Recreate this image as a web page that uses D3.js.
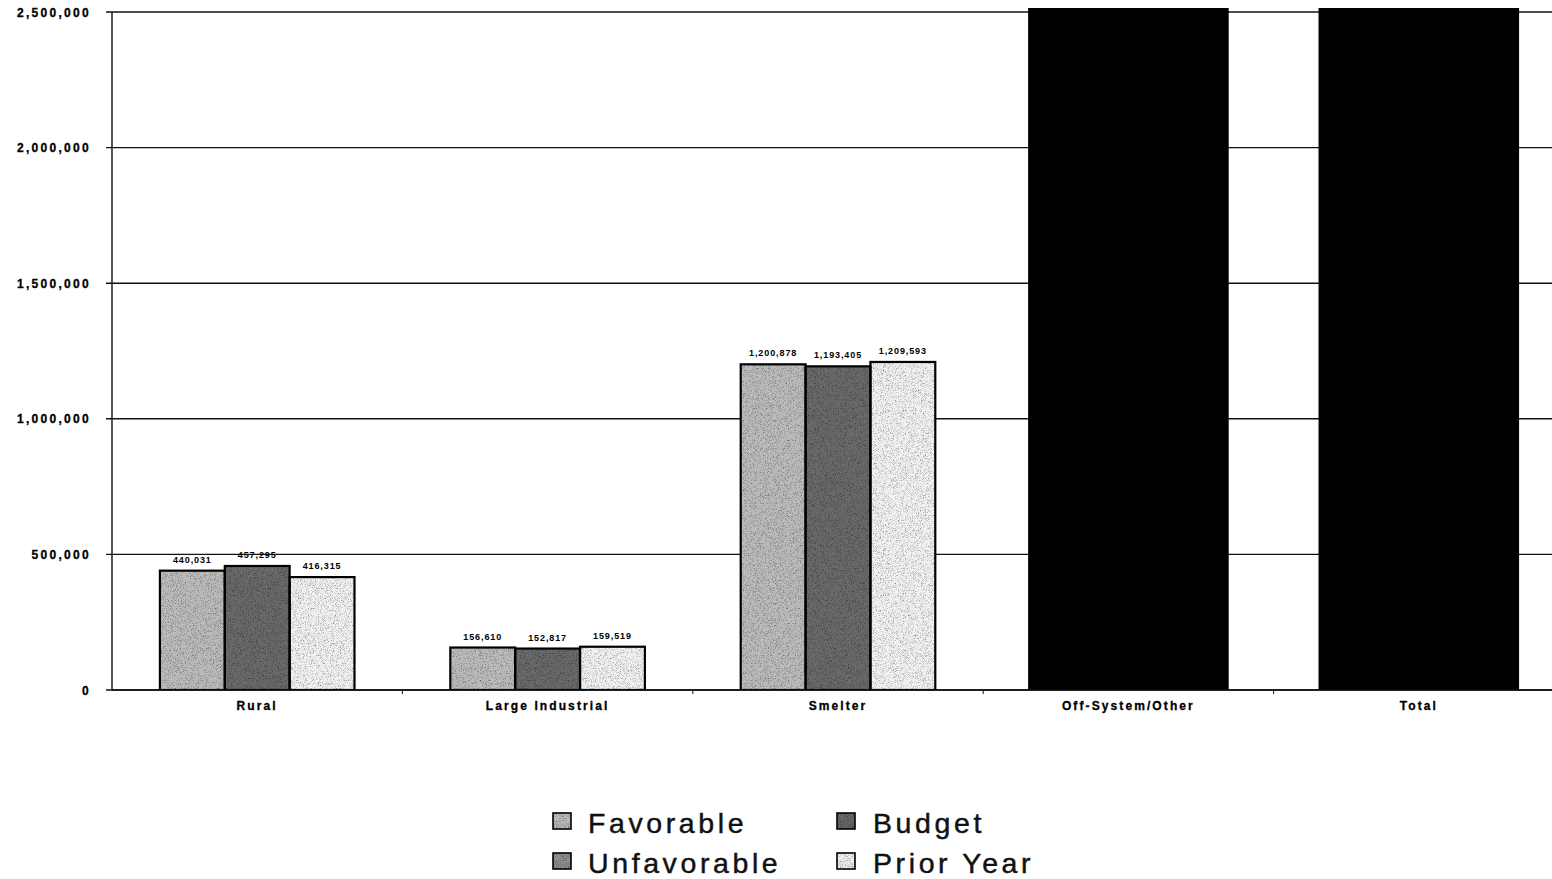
<!DOCTYPE html>
<html>
<head>
<meta charset="utf-8">
<script src="https://cdn.jsdelivr.net/npm/d3@7"></script>
<style>
  html, body { margin: 0; padding: 0; background: #fff; overflow: hidden; }
  svg { display: block; font-family: "Liberation Sans", Arial, sans-serif; }
</style>
</head>
<body>
<svg id="chart" width="1552" height="879"></svg>
<script>
// chart data
const categories = ["Rural", "Large Industrial", "Smelter", "Off-System/Other", "Total"];
const seriesNames = ["Favorable", "Budget", "Prior Year"];
const favorable = [440031, 156610, 1200878, null, null];
const budget = [457295, 152817, 1193405, null, null];
const priorYear = [416315, 159519, 1209593, null, null];
// last two groups are blacked out in the source (values above the axis top)
const redacted = [false, false, false, true, true];
const yTicks = [0, 500000, 1000000, 1500000, 2000000, 2500000];
const legendItems = ["Favorable", "Budget", "Unfavorable", "Prior Year"];
const legendColors = ["#b9b9b9", "#666666", "#8e8e8e", "#eeeeee"];

const svg = d3.select("#chart");
const plotLeft = 112, plotRight = 1564, plotTop = 12, plotBottom = 690;

const x = d3.scaleBand()
  .domain(categories)
  .range([plotLeft, plotRight])
  .paddingInner(0.33)
  .paddingOuter(0.165);

const xSub = d3.scaleBand()
  .domain(seriesNames)
  .range([0, x.bandwidth()]);

const y = d3.scaleLinear()
  .domain([0, 2500000])
  .range([plotBottom, plotTop]);

const fmt = d3.format(",");

// scan-like grain for the filled marks
const defs = svg.append("defs");
const grain = defs.append("filter").attr("id", "grain")
  .attr("x", 0).attr("y", 0).attr("width", 1).attr("height", 1);
grain.append("feTurbulence")
  .attr("type", "fractalNoise").attr("baseFrequency", 1.4)
  .attr("numOctaves", 1).attr("seed", 3).attr("result", "noise");
grain.append("feColorMatrix")
  .attr("in", "noise").attr("type", "matrix")
  .attr("values", "0 0 0 0 0  0 0 0 0 0  0 0 0 0 0  0 0 0 -2.2 1.15")
  .attr("result", "dots");
grain.append("feComposite")
  .attr("in", "dots").attr("in2", "SourceGraphic").attr("operator", "in")
  .attr("result", "dotsIn");
const merge = grain.append("feMerge");
merge.append("feMergeNode").attr("in", "SourceGraphic");
merge.append("feMergeNode").attr("in", "dotsIn");

// grid lines
svg.append("g")
  .selectAll("line")
  .data(yTicks)
  .join("line")
  .attr("x1", plotLeft - 6)
  .attr("x2", 1552)
  .attr("y1", d => y(d))
  .attr("y2", d => y(d))
  .attr("stroke", "#111")
  .attr("stroke-width", 1.4);

// y tick labels
svg.append("g")
  .selectAll("text")
  .data(yTicks)
  .join("text")
  .attr("x", 91)
  .attr("y", d => y(d) + 4.5)
  .attr("text-anchor", "end")
  .attr("font-size", 12)
  .attr("font-weight", "bold")
  .attr("letter-spacing", 2.3)
  .attr("stroke", "#000").attr("stroke-width", 0.3)
  .text(d => fmt(d));

// left axis line
svg.append("line")
  .attr("x1", plotLeft).attr("x2", plotLeft)
  .attr("y1", plotTop).attr("y2", plotBottom)
  .attr("stroke", "#111").attr("stroke-width", 1.4);

// category boundary ticks
svg.append("g")
  .selectAll("line")
  .data(categories.slice(1))
  .join("line")
  .attr("x1", d => x(d) - x.step() * x.paddingInner() / 2)
  .attr("x2", d => x(d) - x.step() * x.paddingInner() / 2)
  .attr("y1", plotBottom)
  .attr("y2", plotBottom + 4)
  .attr("stroke", "#111");

svg.append("clipPath").attr("id", "plotClip")
  .append("rect").attr("x", 0).attr("y", 8).attr("width", 1552).attr("height", plotBottom - 8);

const bars = [];
categories.forEach((c, i) => {
  [favorable, budget, priorYear].forEach((arr, k) => {
    bars.push({ cat: c, series: seriesNames[k], value: arr[i], hidden: redacted[i] });
  });
});
const barColors = { "Favorable": "#bcbcbc", "Budget": "#6a6a6a", "Prior Year": "#f2f2f2" };

const g = svg.append("g").attr("clip-path", "url(#plotClip)");

// visible bars
g.selectAll("rect.bar")
  .data(bars.filter(d => !d.hidden))
  .join("rect")
  .attr("class", "bar")
  .attr("x", d => x(d.cat) + xSub(d.series))
  .attr("width", xSub.bandwidth())
  .attr("y", d => y(d.value))
  .attr("height", d => plotBottom - y(d.value))
  .attr("fill", d => barColors[d.series])
  .attr("filter", "url(#grain)");

g.selectAll("rect.outline")
  .data(bars.filter(d => !d.hidden))
  .join("rect")
  .attr("class", "outline")
  .attr("x", d => x(d.cat) + xSub(d.series))
  .attr("width", xSub.bandwidth())
  .attr("y", d => y(d.value))
  .attr("height", d => plotBottom - y(d.value))
  .attr("fill", "none")
  .attr("stroke", "#000")
  .attr("stroke-width", 2.2);

// blacked-out groups
g.selectAll("rect.black")
  .data(bars.filter(d => d.hidden))
  .join("rect")
  .attr("class", "black")
  .attr("x", d => x(d.cat) + xSub(d.series))
  .attr("width", xSub.bandwidth())
  .attr("y", 0)
  .attr("height", plotBottom)
  .attr("fill", "#000")
  .attr("stroke", "#000")
  .attr("stroke-width", 6);

// bottom axis line
svg.append("line")
  .attr("x1", plotLeft).attr("x2", 1552)
  .attr("y1", plotBottom).attr("y2", plotBottom)
  .attr("stroke", "#111").attr("stroke-width", 1.6);

// value labels
svg.append("g")
  .selectAll("text")
  .data(bars.filter(d => !d.hidden))
  .join("text")
  .attr("x", d => x(d.cat) + xSub(d.series) + xSub.bandwidth() / 2)
  .attr("y", d => y(d.value) - 8)
  .attr("text-anchor", "middle")
  .attr("font-size", 9)
  .attr("font-weight", "bold")
  .attr("letter-spacing", 0.9)
  .text(d => fmt(d.value));

// category labels
svg.append("g")
  .selectAll("text")
  .data(categories)
  .join("text")
  .attr("x", d => x(d) + x.bandwidth() / 2)
  .attr("y", 710)
  .attr("text-anchor", "middle")
  .attr("font-size", 12)
  .attr("font-weight", "bold")
  .attr("letter-spacing", 2.1)
  .attr("stroke", "#000").attr("stroke-width", 0.3)
  .text(d => d);

// legend
const legend = svg.append("g");
const lx = [553, 837], ly = [813, 853];
legendItems.forEach((name, i) => {
  const col = i % 2, row = Math.floor(i / 2);
  const item = legend.append("g").attr("transform", `translate(${lx[col]},${ly[row]})`);
  item.append("rect")
    .attr("width", 18).attr("height", 16)
    .attr("fill", legendColors[i])
    .attr("filter", "url(#grain)");
  item.append("rect")
    .attr("width", 18).attr("height", 16)
    .attr("fill", "none")
    .attr("stroke", "#000").attr("stroke-width", 1.6);
  item.append("text")
    .attr("x", col === 0 ? 35 : 36)
    .attr("y", 20)
    .attr("font-size", 28.5)
    .attr("letter-spacing", 3.6)
    .attr("fill", "#111")
    .attr("stroke", "#111").attr("stroke-width", 0.45)
    .text(name);
});
</script>
</body>
</html>
